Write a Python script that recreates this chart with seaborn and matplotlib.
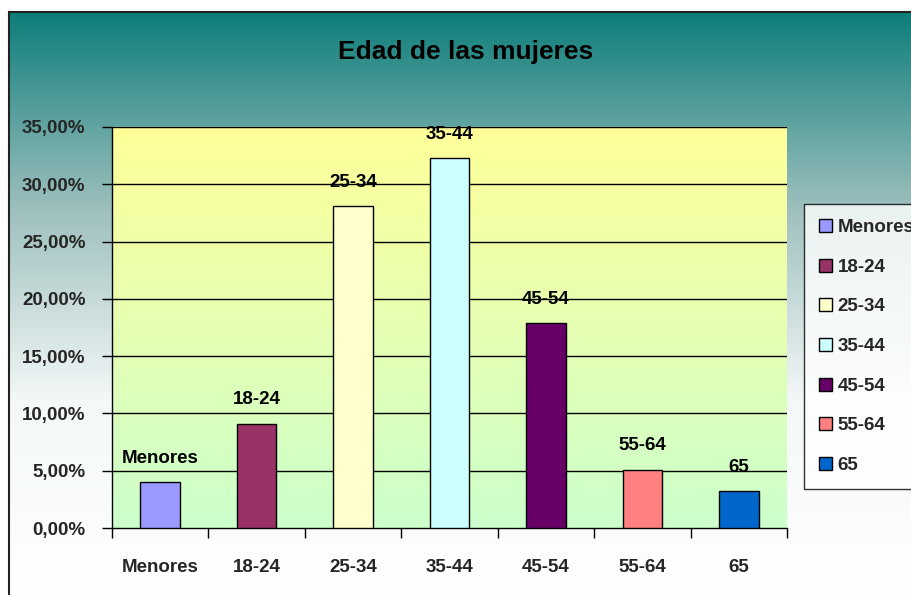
import numpy as np
import pandas as pd
import seaborn as sns
import matplotlib.pyplot as plt
from matplotlib.colors import LinearSegmentedColormap
from matplotlib.patches import Patch

# data
categories = ["Menores", "18-24", "25-34", "35-44", "45-54", "55-64", "65"]
values = [4.0, 9.1, 28.1, 32.3, 17.9, 5.1, 3.2]
bar_colors = ["#9999FF", "#993366", "#FFFFCC", "#CCFFFF", "#660066", "#FF8080", "#0066CC"]
y_ticks = [0, 5, 10, 15, 20, 25, 30, 35]

df = pd.DataFrame({"grupo": categories, "pct": values})

sns.set_theme(style="white")
plt.rcParams["font.family"] = ["Liberation Sans", "DejaVu Sans"]
plt.rcParams["font.weight"] = "bold"
fs = 13.5

fig = plt.figure(figsize=(9.12, 5.95), dpi=100)
fig.patch.set_facecolor("white")

# teal -> white background behind everything, with a dark border left/top
bg = fig.add_axes([9 / 912, 0, 1 - 9 / 912, (595 - 12) / 595], zorder=-10)
bg_cmap = LinearSegmentedColormap.from_list("bg", ["#0E7E7A", "#9CBFBD", "#F4F8F8", "#FFFFFF"])
bg.imshow(np.linspace(0, 1, 256).reshape(-1, 1), cmap=bg_cmap, aspect="auto",
          extent=[0, 1, 0, 1], origin="upper")
bg.set_xticks([])
bg.set_yticks([])
for side in ["right", "bottom"]:
    bg.spines[side].set_visible(False)
for side in ["left", "top"]:
    bg.spines[side].set_color("#222222")
    bg.spines[side].set_linewidth(1.5)

ax = fig.add_axes([112 / 912, 1 - 528 / 595, (787 - 112) / 912, (528 - 127) / 595])

# yellow -> light green plot area
pa_cmap = LinearSegmentedColormap.from_list("pa", ["#FFFF99", "#CCFFCC"])
ax.imshow(np.linspace(0, 1, 256).reshape(-1, 1), cmap=pa_cmap, aspect="auto",
          extent=[-0.5, 6.5, 0, 35], origin="upper", zorder=0)

sns.barplot(data=df, x="grupo", y="pct", hue="grupo", palette=bar_colors,
            width=0.41, edgecolor="black", linewidth=1, legend=False,
            saturation=1, ax=ax, zorder=3)

for cont, cat in zip(ax.containers, categories):
    ax.bar_label(cont, labels=[cat], padding=11, fontsize=fs, fontweight="bold", color="black")

ax.set_xlim(-0.5, 6.5)
ax.set_ylim(0, 35)
ax.set_yticks(y_ticks)
ax.set_yticklabels([f"{v:.2f}".replace(".", ",") + "%" for v in y_ticks])
for v in y_ticks[1:]:
    ax.axhline(v, color="black", linewidth=1, zorder=1)

ax.set_xticks(range(len(categories)))
ax.set_xticklabels(categories)
ax.set_xticks(np.arange(-0.5, 7, 1), minor=True)
ax.tick_params(axis="x", which="major", length=0, pad=22, labelsize=fs)
ax.tick_params(axis="x", which="minor", length=7, width=1, color="black", direction="out", bottom=True)
ax.tick_params(axis="y", length=7, width=1, color="black", direction="out", left=True, pad=12, labelsize=fs)
for lab in ax.get_xticklabels() + ax.get_yticklabels():
    lab.set_fontweight("bold")
ax.set_xlabel("")
ax.set_ylabel("")

for side in ["top", "right"]:
    ax.spines[side].set_visible(False)
for side in ["left", "bottom"]:
    ax.spines[side].set_color("black")
    ax.spines[side].set_linewidth(1)

fig.text(466 / 912, 1 - 52 / 595, "Edad de las mujeres", ha="center", va="center",
         fontsize=19, fontweight="bold", color="black")

handles = [Patch(facecolor=c, edgecolor="black", linewidth=1) for c in bar_colors]
leg = fig.legend(handles, categories, loc="upper left",
                 bbox_to_anchor=(804 / 912, 1 - 204 / 595),
                 frameon=True, fancybox=False, fontsize=fs,
                 handlelength=0.7, handleheight=0.7, handletextpad=0.3,
                 labelspacing=1.2, borderpad=0.8, borderaxespad=0)
leg.get_frame().set_facecolor("white")
leg.get_frame().set_edgecolor("black")
leg.get_frame().set_linewidth(1)
for t in leg.get_texts():
    t.set_fontweight("bold")

fig.savefig("out.png", dpi=100)
